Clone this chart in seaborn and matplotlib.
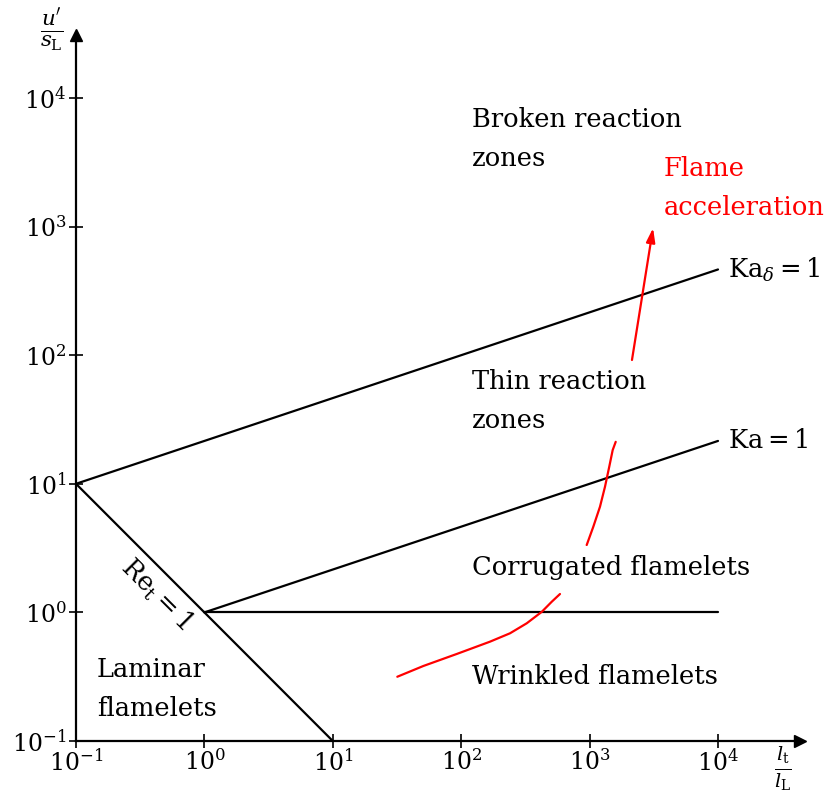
import numpy as np
import pandas as pd
import matplotlib
matplotlib.use("Agg")
import matplotlib.pyplot as plt
import seaborn as sns

# ---- data ----
kad_x = [0.1, 1e4]
kad_y = [10.0, 10 ** (1 + 5 / 3)]
ka_x = [1.0, 1e4]
ka_y = [1.0, 10 ** (4 / 3)]
re_x = [0.1, 10.0]
re_y = [10.0, 0.1]
one_x = [1.0, 1e4]
one_y = [1.0, 1.0]

red_low_x = [31.8, 50.7, 92.3, 167.5, 240, 324, 424, 507, 588]
red_low_y = [0.316, 0.383, 0.475, 0.592, 0.688, 0.823, 1.01, 1.21, 1.39]
red_up_x = [949, 1069, 1205, 1318, 1423, 1513, 1597]
red_up_y = [3.34, 4.64, 6.64, 9.49, 13.6, 18.3, 21.2]
arrow_tail = (2138, 91.8)
arrow_tip = (3120, 975)

xticks = [1e-1, 1e0, 1e1, 1e2, 1e3, 1e4]
yticks = [1e-1, 1e0, 1e1, 1e2, 1e3, 1e4]
tick_labels = [r"$10^{-1}$", r"$10^{0}$", r"$10^{1}$", r"$10^{2}$", r"$10^{3}$", r"$10^{4}$"]

sns.set_theme(style="white")
plt.rcParams["font.family"] = ["DejaVu Serif"]
plt.rcParams["mathtext.fontset"] = "dejavuserif"
plt.rcParams["text.color"] = "black"

W, H = 829, 795
fig = plt.figure(figsize=(W / 100, H / 100), dpi=100)
x0, x1 = 76, 800
y0, y1 = 741, 35
ax = fig.add_axes([x0 / W, (H - y0) / H, (x1 - x0) / W, (y0 - y1) / H])
ax.set_xscale("log")
ax.set_yscale("log")
ax.set_xlim(0.1, 10 ** (-1 + (x1 - x0) / 128.4))
ax.set_ylim(0.1, 10 ** (-1 + (y0 - y1) / 128.6))

for xs, ys in [(kad_x, kad_y), (ka_x, ka_y), (re_x, re_y), (one_x, one_y)]:
    sns.lineplot(x=xs, y=ys, color="black", lw=1.6, ax=ax, estimator=None, sort=False)
sns.lineplot(x=red_low_x, y=red_low_y, color="red", lw=1.6, ax=ax, estimator=None, sort=False)
sns.lineplot(x=red_up_x, y=red_up_y, color="red", lw=1.6, ax=ax, estimator=None, sort=False)
ax.annotate("", xy=arrow_tip, xytext=arrow_tail,
            arrowprops=dict(arrowstyle="-|>,head_length=0.7,head_width=0.22", color="red", lw=1.6,
                            shrinkA=0, shrinkB=0))

for s in ["top", "right"]:
    ax.spines[s].set_visible(False)
for s in ["left", "bottom"]:
    ax.spines[s].set_color("black")
    ax.spines[s].set_linewidth(1.6)
ax.plot(1, 0, marker=">", color="black", ms=9, transform=ax.transAxes, clip_on=False)
ax.plot(0, 1, marker="^", color="black", ms=9, transform=ax.transAxes, clip_on=False)

ax.set_xticks(xticks)
ax.set_xticklabels(tick_labels)
ax.set_yticks(yticks)
ax.set_yticklabels(tick_labels)
ax.minorticks_off()
ax.tick_params(axis="both", which="major", direction="inout", length=10, width=1.2,
               labelsize=17, color="black", labelcolor="black", left=True, bottom=True)
ax.tick_params(axis="x", pad=1)
ax.tick_params(axis="y", pad=2)
ax.grid(False)

fs = 18.5
ls = 1.7
def px(xp):
    return 10 ** (-1 + (xp - 76) / 128.4)
def py(yp):
    return 10 ** (-1 + (741 - yp) / 128.6)

ax.text(px(472), py(139), "Broken reaction\nzones", fontsize=fs, ha="left", va="center", linespacing=ls)
ax.text(px(664), py(188), "Flame\nacceleration", fontsize=fs, ha="left", va="center", color="red", linespacing=ls)
ax.text(px(472), py(401), "Thin reaction\nzones", fontsize=fs, ha="left", va="center", linespacing=ls)
ax.text(px(728), kad_y[1], r"$\mathrm{Ka}_\delta = 1$", fontsize=fs, ha="left", va="center")
ax.text(px(728), ka_y[1], r"$\mathrm{Ka} = 1$", fontsize=fs, ha="left", va="center")
ax.text(px(472), py(567), "Corrugated flamelets", fontsize=fs, ha="left", va="center",
        bbox=dict(facecolor="white", edgecolor="none", pad=6))
ax.text(px(472), py(677), "Wrinkled flamelets", fontsize=fs, ha="left", va="center")
ax.text(px(97), py(689), "Laminar\nflamelets", fontsize=fs, ha="left", va="center", linespacing=ls)
ax.text(px(156), py(594), r"$\mathrm{Re}_\mathrm{t} = 1$", fontsize=fs, ha="center", va="center",
        rotation=-45, rotation_mode="anchor")

fig.text(52 / W, 1 - 30 / H, r"$\frac{u'}{s_\mathrm{L}}$", fontsize=22, ha="center", va="center")
fig.text(783 / W, 1 - 769 / H, r"$\frac{l_\mathrm{t}}{l_\mathrm{L}}$", fontsize=20, ha="center", va="center")

fig.savefig("out.png", dpi=100)
